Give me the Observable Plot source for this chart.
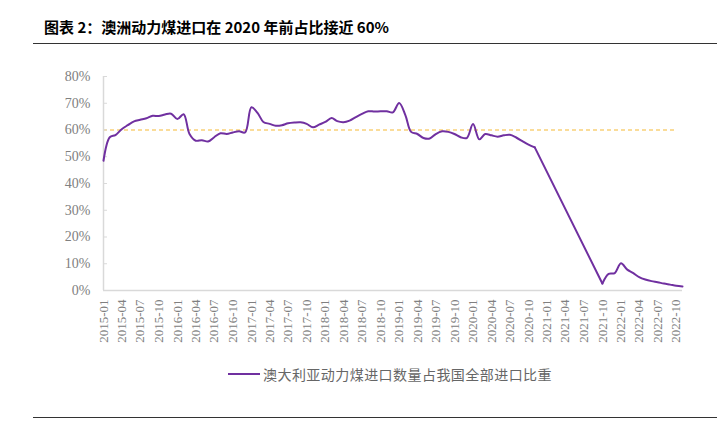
<!DOCTYPE html>
<html><head><meta charset="utf-8">
<script src="https://cdn.jsdelivr.net/npm/d3@7"></script>
<script src="https://cdn.jsdelivr.net/npm/@observablehq/plot@0.6"></script>
<style>
body{margin:0;background:#fff;}
#wrap{position:relative;width:721px;height:422px;overflow:hidden;background:#fff;}
#title{position:absolute;left:44px;top:16px;font:bold 15px "Noto Sans CJK SC",sans-serif;color:#000;white-space:nowrap;}
.hr{position:absolute;left:33px;width:684px;height:0;border-top:1.5px solid #333;}
#chart{position:absolute;left:0;top:60px;}
#chart svg text{font-family:"Liberation Serif","Times New Roman",serif !important;}
#legend{position:absolute;left:228px;top:364px;display:flex;align-items:center;font:14px "Noto Sans CJK SC",sans-serif;color:#666;letter-spacing:0.45px;white-space:nowrap;}
#legend .sw{width:32px;height:2px;background:#7030a0;margin-right:3px;}
</style></head><body>
<div id="wrap">
<div id="title">图表 2：澳洲动力煤进口在 2020 年前占比接近 60%</div>
<div class="hr" style="top:43px"></div>
<div id="chart"></div>
<div id="legend"><span class="sw"></span><span id="legtext"></span></div>
<div class="hr" style="top:417px"></div>
</div>
<script>
const seriesName = "澳大利亚动力煤进口数量占我国全部进口比重";
// 2015-01 .. 2020-11 (monthly, %)
const seg1Start = "2015-01";
const seg1Values = [
  48.5, 57.3, 58.1, 60.3, 61.8, 63.2, 63.8, 64.4, 65.3, 65.2, 65.8, 66.1,
  64.1, 65.9, 58.5, 56.0, 56.2, 55.7, 57.3, 58.8, 58.5, 59.1, 59.5, 59.1,
  68.5, 66.3, 63.0, 62.3, 61.6, 61.8, 62.5, 62.8, 62.9, 62.3, 61.0, 62.0,
  63.0, 64.5, 63.3, 62.9, 63.5, 64.8, 66.0, 67.0, 66.9, 67.0, 67.0, 66.6,
  70.1, 65.5, 59.3, 58.5, 57.0, 56.8, 58.5, 59.5, 59.3, 58.5, 57.3, 57.0,
  62.2, 56.5, 58.5, 58.0, 57.5, 58.0, 58.2, 57.2, 55.8, 54.5, 53.5
];
// 2021-10 .. 2022-11 (monthly, %)
const seg2Start = "2021-10";
const seg2Values = [2.6, 6.2, 6.5, 10.2, 7.8, 6.6, 5.0, 4.1, 3.5, 3.1, 2.6, 2.2, 1.8, 1.5];
const refValue = 60;
const refStart = "2015-01", refEnd = "2022-10";
const xStart = "2015-01", xEnd = "2022-11";
const yTicks = [0, 10, 20, 30, 40, 50, 60, 70, 80];

document.getElementById("legtext").textContent = seriesName;
const parse = d3.utcParse("%Y-%m");
const rows1 = seg1Values.map((v, i) => ({date: d3.utcMonth.offset(parse(seg1Start), i), value: v}));
const rows2 = seg2Values.map((v, i) => ({date: d3.utcMonth.offset(parse(seg2Start), i), value: v}));
const gapRows = [rows1[rows1.length - 1], rows2[0]];

const serif = '"Liberation Serif", "Times New Roman", serif';
const purple = "#7030a0";
const chart = Plot.plot({
  width: 721, height: 295,
  marginTop: 16, marginBottom: 65, marginLeft: 103, marginRight: 39,
  style: {fontFamily: serif, fontSize: "13px", color: "#808080", background: "#fff"},
  x: {type: "utc", domain: [parse(xStart), parse(xEnd)]},
  y: {domain: [0, 80]},
  marks: [
    Plot.ruleY([refValue], {x1: parse(refStart), x2: parse(refEnd), stroke: "#f5b935", strokeWidth: 1.2, strokeDasharray: "4,3"}),
    Plot.ruleX([parse(xStart)], {y1: 0, y2: 80, stroke: "#d9d9d9", strokeWidth: 1.5}),
    Plot.ruleY([0], {stroke: "#d9d9d9", strokeWidth: 1.5}),
    Plot.axisY({ticks: yTicks, tickFormat: d => d + "%", tickSize: -4, tickPadding: 17, stroke: "#d9d9d9", fill: "#808080", fontSize: 14, fontFamily: serif, label: null}),
    Plot.axisX({ticks: d3.utcMonth.every(3), tickFormat: d3.utcFormat("%Y-%m"), tickRotate: -90, tickSize: 0, tickPadding: 9, fill: "#808080", fontSize: 13, fontFamily: serif, label: null}),
    Plot.line(rows1, {x: "date", y: "value", stroke: purple, strokeWidth: 2, curve: "catmull-rom"}),
    Plot.line(gapRows, {x: "date", y: "value", stroke: purple, strokeWidth: 2}),
    Plot.line(rows2, {x: "date", y: "value", stroke: purple, strokeWidth: 2, curve: "catmull-rom"})
  ]
});
document.getElementById("chart").appendChild(chart);
</script>
</body></html>
